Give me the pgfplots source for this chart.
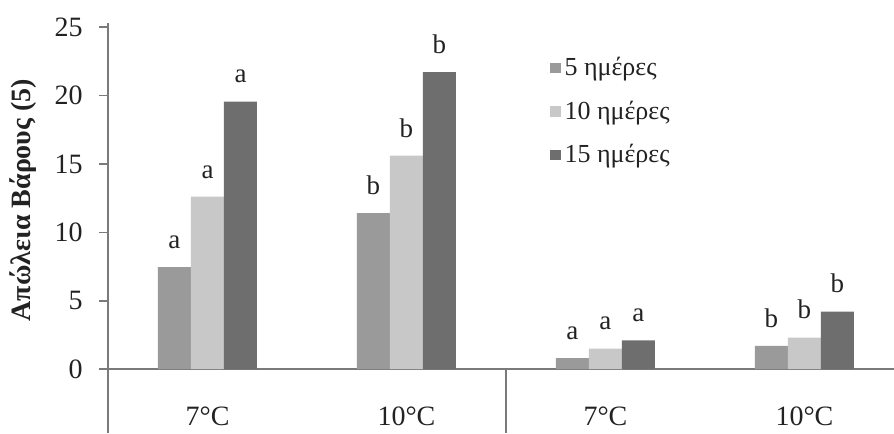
\documentclass[border=0pt]{standalone}
\usepackage{fontspec}
\setmainfont{Liberation Serif}
\usepackage{pgfplots}
\usepackage{pgfplotstable}
\pgfplotsset{compat=1.18}
\definecolor{cA}{HTML}{9A9A9A}
\definecolor{cB}{HTML}{C8C8C8}
\definecolor{cC}{HTML}{6E6E6E}
\definecolor{axiscol}{HTML}{7A7A7A}
\definecolor{txt}{HTML}{222222}
\pgfplotstableread{
x y l
0 7.45 a
1 11.4 b
2 0.8 a
3 1.7 b
}\fived
\pgfplotstableread{
x y l
0 12.6 a
1 15.6 b
2 1.5 a
3 2.3 b
}\tend
\pgfplotstableread{
x y l
0 19.55 a
1 21.7 b
2 2.1 a
3 4.2 b
}\fifteend
\begin{document}
\begin{tikzpicture}
\begin{axis}[
  name=ax,
  scale only axis,
  width=393pt, height=205.2pt,
  xmin=-0.5, xmax=3.45, ymin=-4.7, ymax=25.3,
  axis x line=middle, axis y line=left,
  axis line style={-, draw=axiscol, line width=0.9pt},
  hide obscured x ticks=false, hide obscured y ticks=false,
  ybar=0pt, bar width=16.5pt,
  xtick={0,1,2,3},
  xticklabels={7°C,10°C,7°C,10°C},
  xtick style={draw=none},
  ytick={0,5,10,15,20,25},
  ytick style={draw=axiscol, line width=0.8pt},
  tick align=outside,
  major tick length=4.5pt,
  /pgf/number format/assume math mode=true,
  tick label style={font=\fontsize{14}{16}\selectfont, text=txt},
  xticklabel style={anchor=base, yshift=-23.5pt},
  yticklabel style={anchor=east, inner sep=0pt, xshift=-8pt},
  clip=false,
  nodes near coords,
  point meta=explicit symbolic,
  nodes near coords style={anchor=south, inner sep=0pt, yshift=9pt, font=\fontsize{13.5}{15}\selectfont, text=txt},
  legend image code/.code={\fill[#1] (0pt,-2.6pt) rectangle (5.2pt,2.6pt);},
  legend style={draw=none, fill=none, at={(axis cs:1.72,23.1)}, anchor=north west,
    font=\fontsize{13}{15}\selectfont, text=txt, inner sep=0pt, row sep=7pt,
    legend cell align=left},
]
\addplot[fill=cA, draw=none] table[x=x, y=y, meta=l] {\fived};
\addlegendentry{5 ημέρες}
\addplot[fill=cB, draw=none] table[x=x, y=y, meta=l] {\tend};
\addlegendentry{10 ημέρες}
\addplot[fill=cC, draw=none] table[x=x, y=y, meta=l] {\fifteend};
\addlegendentry{15 ημέρες}
\draw[axiscol, line width=0.9pt] (axis cs:1.5,0) -- (axis cs:1.5,-4.7);
\node[rotate=90, font=\fontsize{14}{16}\selectfont\bfseries, text=txt] at ([xshift=-42.5pt]axis cs:-0.5,12.35) {Απώλεια Βάρους (5)};
\end{axis}
\pgfresetboundingbox
\useasboundingbox ([xshift=-54pt]ax.south west) rectangle ([yshift=11.5pt]ax.north east);
\end{tikzpicture}
\end{document}
